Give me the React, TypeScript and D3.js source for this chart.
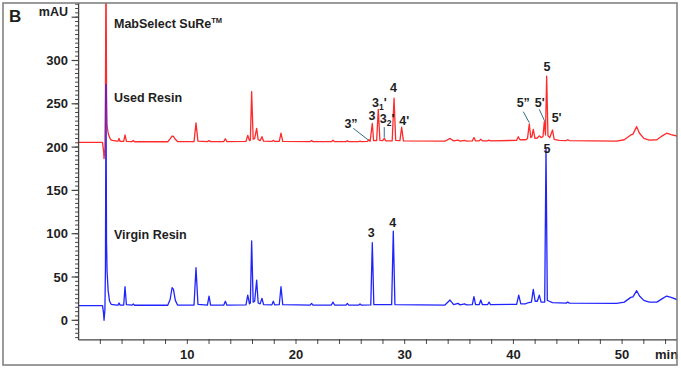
import React from "react";
import * as d3 from "d3";

// ---------- data (time in min, absorbance in mAU) ----------
const usedTrace: [number, number][] = [
  [0, 205.5], [2.2, 205.5], [2.3, 195], [2.34, 186.6], [2.42, 198], [2.47, 260], [2.52, 420], [2.57, 260], [2.62, 225], [2.72, 216], [2.85, 211], [3.0, 208], [3.5, 206.8],
  [3.62, 206.8], [3.72, 210], [3.82, 206.5],
  [4.15, 206.6], [4.27, 214], [4.4, 206.6],
  [4.9, 206.3], [5.03, 207.5], [5.15, 206.2],
  [8.2, 206.2], [8.42, 209.5], [8.6, 212.8], [8.72, 212.3], [8.9, 209], [9.1, 206.4],
  [10.62, 206.4], [10.8, 228], [10.98, 206.8],
  [11.85, 206.3], [12.0, 207.5], [12.14, 206.3],
  [13.35, 206.3], [13.5, 209.7], [13.65, 206.3],
  [15.4, 206.5], [15.56, 213.6], [15.72, 207.5], [15.8, 208], [15.92, 264], [16.06, 209], [16.2, 210], [16.38, 221.7], [16.52, 208.5], [16.7, 207.5], [16.87, 212], [17.02, 206.8],
  [17.78, 206.5], [17.91, 207.8], [18.04, 206.5],
  [18.46, 206.6], [18.62, 216], [18.78, 206.6],
  [21.3, 206.3], [21.43, 207.6], [21.56, 206.3],
  [23.25, 206.3], [23.4, 208], [23.55, 206.3],
  [24.6, 206.3], [24.72, 207.3], [24.85, 206.3],
  [25.78, 206.3], [25.89, 207], [26.0, 206.3],
  [26.58, 206.5], [26.7, 208.5], [26.82, 206.8], [27.02, 227.5], [27.14, 207.5], [27.42, 207.5], [27.57, 243.6], [27.72, 207.8], [27.98, 207.5], [28.12, 210], [28.26, 207.2],
  [28.85, 207.3], [29.02, 256.4], [29.17, 207.8], [29.56, 207.5], [29.72, 222.9], [29.88, 207.2],
  [33.7, 206.8], [34.17, 210], [34.5, 207.2], [34.9, 208], [35.1, 207], [35.5, 207.8], [35.7, 207],
  [36.22, 207.2], [36.37, 211], [36.52, 207.2], [36.85, 207.2], [37.0, 209], [37.15, 207.2], [37.62, 207.2], [37.76, 208], [37.9, 207.2],
  [40.3, 207.8], [40.45, 212], [40.6, 208.5],
  [41.15, 208.5], [41.3, 210], [41.46, 226.7], [41.6, 211], [41.7, 212], [41.83, 220.5], [41.98, 210], [42.2, 210.5], [42.38, 213], [42.55, 211], [42.72, 212], [42.84, 229], [42.95, 214], [43.06, 282], [43.18, 213], [43.35, 211], [43.6, 219.7], [43.75, 209], [44.2, 207.8],
  [44.85, 207.5], [45.0, 208.5], [45.15, 207.5],
  [49.5, 207], [50.2, 208.5], [50.8, 214], [51.0, 215], [51.34, 223.6], [51.6, 216], [52.0, 210], [52.5, 208], [53.2, 208.5], [53.7, 213], [54.1, 216], [54.5, 214.5], [55.05, 212.8],
];

const virginTrace: [number, number][] = [
  [0, 17], [2.2, 17], [2.3, 8], [2.34, 0], [2.42, 12], [2.47, 60], [2.52, 272], [2.57, 90], [2.62, 56], [2.72, 34], [2.85, 22], [3.0, 18.5], [3.5, 17.5],
  [3.62, 17.5], [3.72, 20], [3.82, 17.5],
  [4.15, 17.6], [4.27, 38.8], [4.4, 18],
  [4.9, 17.5], [5.03, 18.8], [5.15, 17.4],
  [8.2, 17.4], [8.42, 24], [8.6, 37.6], [8.72, 36], [8.9, 23], [9.1, 17.6],
  [10.62, 17.6], [10.8, 60.7], [10.98, 18.5],
  [11.85, 17.5], [12.0, 28], [12.14, 17.6],
  [13.35, 17.5], [13.5, 22], [13.65, 17.5],
  [15.4, 17.8], [15.56, 29], [15.72, 19], [15.8, 20], [15.92, 91.6], [16.06, 21], [16.2, 22], [16.38, 46.5], [16.52, 20], [16.7, 19], [16.87, 25.4], [17.02, 18],
  [17.78, 17.8], [17.91, 22], [18.04, 17.8],
  [18.46, 18], [18.62, 38.8], [18.78, 18],
  [21.3, 17.5], [21.43, 19.5], [21.56, 17.5],
  [23.25, 17.6], [23.4, 21], [23.55, 17.6],
  [24.6, 17.6], [24.72, 19.5], [24.85, 17.6],
  [25.78, 17.6], [25.89, 19], [26.0, 17.6],
  [26.88, 17.8], [27.02, 89.6], [27.16, 18],
  [28.8, 18], [28.95, 103], [29.1, 18.2],
  [33.7, 17.6], [34.17, 23.4], [34.5, 18], [34.9, 19.5], [35.1, 17.8], [35.5, 19], [35.7, 17.8],
  [36.22, 18], [36.37, 27.3], [36.52, 18],
  [36.85, 18], [37.0, 23.4], [37.15, 18],
  [37.62, 18], [37.76, 21], [37.9, 18],
  [40.3, 18.5], [40.49, 29], [40.68, 19],
  [41.1, 19], [41.3, 20], [41.66, 21], [41.83, 35.8], [42.0, 22], [42.2, 22], [42.38, 29], [42.55, 21], [42.88, 21], [43.0, 199], [43.12, 23], [43.3, 22], [43.6, 20.5],
  [44.85, 19.8], [45.0, 21], [45.15, 19.8],
  [49.5, 19.6], [50.2, 21], [50.8, 26.5], [51.0, 27], [51.34, 34.2], [51.6, 28], [52.0, 23], [52.5, 21], [53.2, 21], [53.7, 25], [54.1, 28], [54.5, 26.5], [55.05, 24],
];

// axis ticks
const xMinorTicks = d3.range(2, 55, 2);
const xLabelTicks = [10, 20, 30, 40, 50];
const yMinorTicks = d3.range(-20, 366, 5);
const yMajorTicks = [0, 50, 100, 150, 200, 250, 300, 350];
const yLabelTicks = [0, 50, 100, 150, 200, 250, 300];

// peak labels
const peakLabelMain = ["3\u201D", "3", "3", "3", "4", "4'", "5", "5\u201D", "5'", "5'", "5", "3", "4"];
const peakLabelSub = ["", "", "1", "2", "", "", "", "", "", "", "", "", ""];
const peakLabelSuffix = ["", "", "'", "'", "", "", "", "", "", "", "", "", ""];
const peakLabelTime = [25.06, 26.99, 27.0, 27.7, 28.97, 29.5, 43.09, 40.3, 41.97, 43.52, 43.09, 26.92, 28.9];
const peakLabelMAU = [222, 231.2, 246.3, 227.9, 263.6, 225.5, 287.8, 246.3, 246.3, 229, 193.2, 96.5, 108.1];
const peakLabelAnchor = ["middle", "middle", "start", "start", "middle", "start", "middle", "start", "start", "start", "middle", "middle", "middle"];

// pointer lines: [t1, v1, t2, v2]
const pointerLines: [number, number, number, number][] = [
  [25.27, 221.7, 26.65, 208.2],
  [28.12, 223, 28.12, 211],
  [40.91, 240.9, 41.46, 228.2],
  [42.38, 243.6, 42.9, 229.3],
];

const FONT = "Arial, 'Liberation Sans', Helvetica, sans-serif";
const TEXT = "#1e1e1e";

export default function App() {
  const W = 681, H = 369;
  const x = d3.scaleLinear().domain([0, 55]).range([78.6, 676.45]);
  const y = d3.scaleLinear().domain([0, 350]).range([320.3, 17.2]);
  const plotLeft = x(0);
  const plotRight = 677;
  const plotTop = 3;
  const plotBottom = y(-22.7);

  const line = d3
    .line<[number, number]>()
    .x((d) => x(d[0]))
    .y((d) => y(d[1]));

  return (
    <svg
      width={W}
      height={H}
      style={{ position: "absolute", left: 0, top: 0, background: "#fff" }}
      fontFamily={FONT}
    >
      <defs>
        <clipPath id="plotclip">
          <rect x={plotLeft} y={plotTop} width={plotRight - plotLeft} height={plotBottom - plotTop} />
        </clipPath>
      </defs>
      <rect x={0} y={0} width={W} height={H} fill="#fff" />

      {/* traces */}
      <g clipPath="url(#plotclip)" fill="none" strokeWidth={1.3} strokeLinejoin="round">
        <path d={line(usedTrace) || ""} stroke="#ff2a2a" />
        <path d={line(virginTrace) || ""} stroke="#1f24ff" />
      </g>

      {/* y axis */}
      <line x1={plotLeft} x2={plotLeft} y1={plotTop} y2={plotBottom} stroke="#444" strokeWidth={1.3} />
      {yMinorTicks.map((v) => (
        <line key={"ym" + v} x1={plotLeft - 3.5} x2={plotLeft} y1={y(v)} y2={y(v)} stroke="#444" strokeWidth={1} />
      ))}
      {yMajorTicks.map((v) => (
        <line key={"yM" + v} x1={plotLeft - 7} x2={plotLeft} y1={y(v)} y2={y(v)} stroke="#444" strokeWidth={1.2} />
      ))}
      {yLabelTicks.map((v) => (
        <text key={"yl" + v} x={68} y={y(v) + 4.5} textAnchor="end" fontSize={13} fontWeight="bold" fill={TEXT}>
          {v}
        </text>
      ))}
      <text x={68} y={16} textAnchor="end" fontSize={12.5} fontWeight="bold" fill={TEXT}>mAU</text>

      {/* x axis */}
      <line x1={plotLeft} x2={plotRight} y1={plotBottom} y2={plotBottom} stroke="#444" strokeWidth={1.3} />
      {xMinorTicks.map((t) => (
        <line key={"xm" + t} x1={x(t)} x2={x(t)} y1={plotBottom - 1} y2={plotBottom + 4} stroke="#444" strokeWidth={1} />
      ))}
      {xLabelTicks.map((t) => (
        <text key={"xl" + t} x={x(t)} y={358.5} textAnchor="middle" fontSize={13} fontWeight="bold" fill={TEXT}>
          {t}
        </text>
      ))}
      <text x={655} y={358.5} fontSize={13} fontWeight="bold" fill={TEXT}>min</text>

      {/* titles */}
      <text x={9} y={22} fontSize={17} fontWeight="bold" fill={TEXT}>B</text>
      <text x={114} y={28} fontSize={12.5} fontWeight="bold" fill={TEXT}>
        MabSelect SuRe
        <tspan fontSize={7.5} dy={-5}>TM</tspan>
      </text>
      <text x={114} y={102} fontSize={12.5} fontWeight="bold" fill={TEXT}>Used Resin</text>
      <text x={114} y={239} fontSize={12.5} fontWeight="bold" fill={TEXT}>Virgin Resin</text>

      {/* pointers */}
      {pointerLines.map((p, i) => (
        <line key={"pl" + i} x1={x(p[0])} y1={y(p[1])} x2={x(p[2])} y2={y(p[3])} stroke="#2f6d8c" strokeWidth={1} />
      ))}

      {/* peak labels */}
      {peakLabelMain.map((m, i) => (
        <text
          key={"pk" + i}
          x={x(peakLabelTime[i])}
          y={y(peakLabelMAU[i])}
          textAnchor={peakLabelAnchor[i] as any}
          fontSize={12.5}
          fontWeight="bold"
          fill={TEXT}
        >
          {m}
          {peakLabelSub[i] ? (
            <tspan fontSize={8.5} dy={3}>{peakLabelSub[i]}</tspan>
          ) : null}
          {peakLabelSuffix[i] ? <tspan dy={-3}>{peakLabelSuffix[i]}</tspan> : null}
        </text>
      ))}

      {/* frame */}
      <rect x={3} y={3} width={674} height={362} fill="none" stroke="#7a7a7a" strokeWidth={1.5} />
    </svg>
  );
}
